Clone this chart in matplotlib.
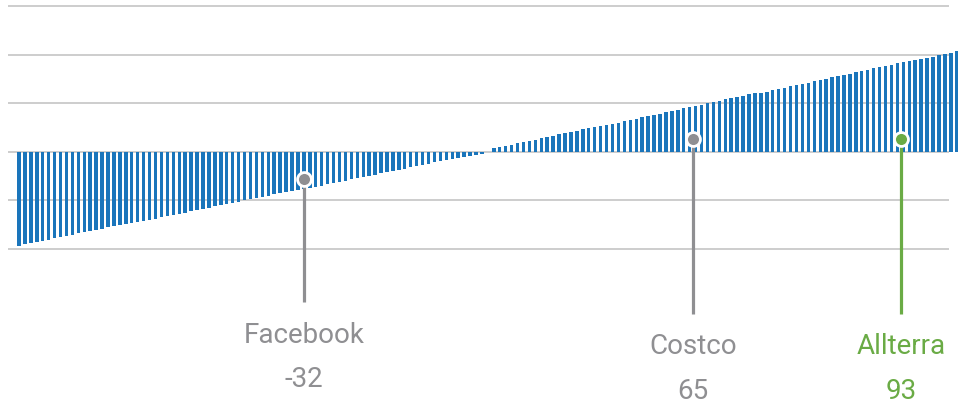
import numpy as np
import matplotlib.pyplot as plt

# bar values, left to right (one thin bar each)
values = [-97, -95, -94, -93, -92, -91, -89, -88, -87, -86,
          -84, -83, -82, -81, -80, -78, -77, -76, -75, -73,
          -72, -71, -70, -69, -67, -66, -65, -64, -63, -61,
          -60, -59, -58, -56, -55, -54, -53, -52, -50, -49,
          -48, -47, -46, -44, -43, -42, -41, -39, -38, -37,
          -36, -35, -33, -32, -31, -30, -28, -27, -26, -25,
          -24, -22, -21, -20, -19, -18, -16, -15, -14, -13,
          -11, -10, -9, -8, -7, -5, -4, -3, -2, -0.5,
          3.5, 5, 6, 7, 9, 10, 11, 12, 14, 15,
          16, 18, 19, 20, 21, 23, 24, 25, 27, 28,
          29, 30, 32, 33, 34, 36, 37, 38, 39, 41,
          42, 43, 45, 46, 47, 48, 50, 51, 52, 54,
          55, 56, 57, 59, 60, 61, 62, 64, 65, 66,
          68, 69, 70, 71, 73, 74, 75, 77, 78, 79,
          80, 82, 83, 84, 86, 87, 88, 89, 91, 92,
          93, 95, 96, 97, 98, 100, 101, 102, 103.5]

grid_levels = [-100, -50, 0, 50, 100, 150]

# highlighted companies
names = ['Facebook', 'Costco', 'Allterra']
scores = [-32, 65, 93]
marker_idx = [48, 113.6, 148.6]
marker_level = [-28, 13, 13]
stem_bottom = [-155, -167, -167]
colors = ['#8f8f92', '#8f8f92', '#6aab45']

blue = '#1a75bb'
grid_color = '#c9c9c9'
font = ['Liberation Sans Narrow', 'Roboto', 'DejaVu Sans']

fig = plt.figure(figsize=(9.6, 4.06), dpi=100)
ax = fig.add_axes([0, 0, 1, 1])

x = np.arange(len(values))
ax.bar(x, values, width=0.58, color=blue, zorder=2)

ax.hlines(grid_levels, -1.85, 156.7, color=grid_color, linewidth=1.3, zorder=1)

for i in range(len(names)):
    ax.plot([marker_idx[i], marker_idx[i]], [marker_level[i], stem_bottom[i]],
            color=colors[i], linewidth=2.3, zorder=3, solid_capstyle='butt')
    ax.plot(marker_idx[i], marker_level[i], 'o', markersize=10,
            markerfacecolor=colors[i], markeredgecolor='white',
            markeredgewidth=2, zorder=4)
    ax.annotate(names[i], (marker_idx[i], stem_bottom[i]), xytext=(0, -23),
                textcoords='offset points', ha='center', va='center',
                fontsize=20, color=colors[i], family=font)
    ax.annotate(str(scores[i]), (marker_idx[i], stem_bottom[i]), xytext=(0, -55),
                textcoords='offset points', ha='center', va='center',
                fontsize=20, color=colors[i], family=font)

ax.set_xlim(-3.2, 158.55)
ax.set_ylim(-261.1, 157.4)
ax.axis('off')

fig.savefig('out.png', dpi=100)
